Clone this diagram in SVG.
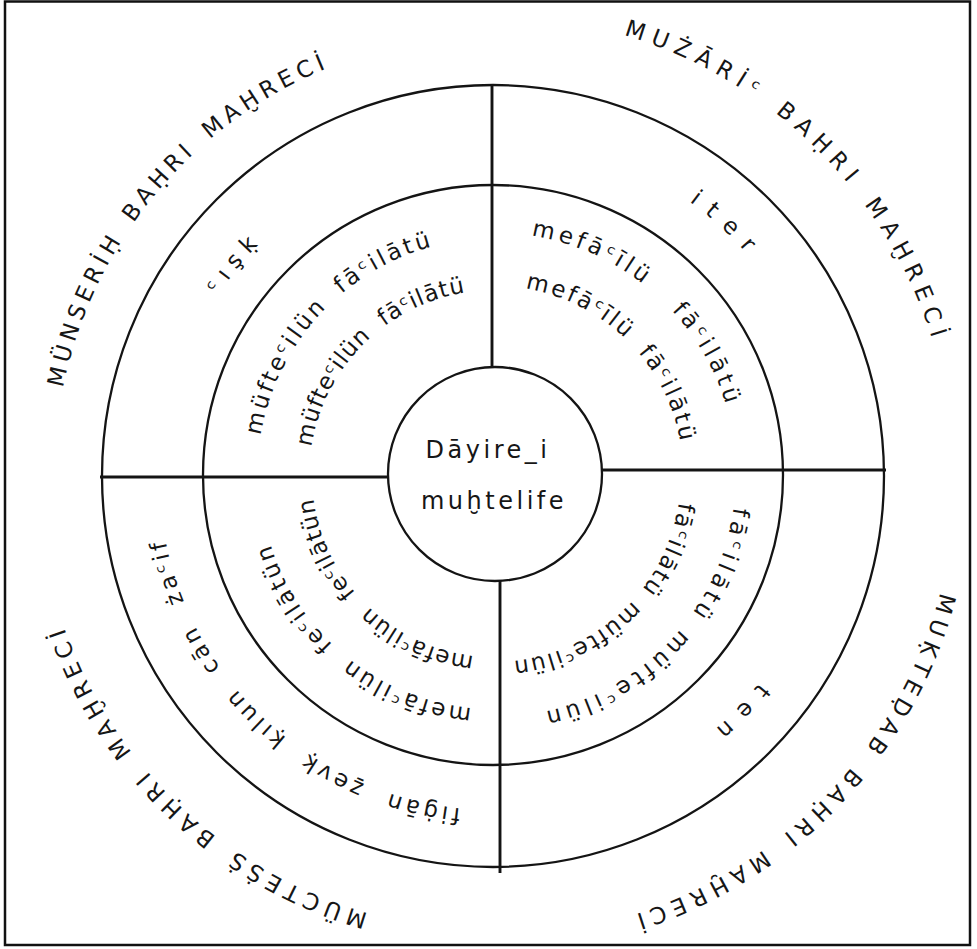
<svg xmlns="http://www.w3.org/2000/svg" xmlns:xlink="http://www.w3.org/1999/xlink" width="977" height="949" viewBox="0 0 977 949">
<style>
.ring{fill:none;stroke:#141414;stroke-width:2.3}
.div{stroke:#141414;stroke-width:2.9}
.t{font-family:"DejaVu Sans","Noto Sans",sans-serif;fill:#161616}
.o{font-size:23px}
.m{font-size:23px}
.i{font-size:23px}
.c{font-size:24px;letter-spacing:3.5px;text-anchor:middle}
</style>
<defs>
<path id="pA" d="M184.0,787.2 A440,440 0 0 1 745.1,113.7"/>
<path id="pB" d="M199.0,123.4 A459,459 0 0 1 845.6,770.0"/>
<path id="pC" d="M840.9,171.3 A461,461 0 0 1 205.1,834.3"/>
<path id="pD" d="M795.6,817.0 A456,456 0 0 1 137.6,190.5"/>
<path id="pE" d="M263.8,710.1 A329,329 0 0 1 679.9,203.5"/>
<path id="pF" d="M269.6,224.9 A336,336 0 0 1 758.4,682.3"/>
<path id="pG" d="M750.6,256.6 A337,337 0 0 1 279.2,734.7"/>
<path id="pH" d="M720.3,722.0 A335,335 0 0 1 228.2,271.1"/>
<path id="pI1" d="M319.3,635.1 A237,237 0 0 1 638.3,287.0"/>
<path id="pI2" d="M352.3,593.9 A185,185 0 0 1 612.9,333.3"/>
<path id="pJ1" d="M327.1,299.7 A242,242 0 0 1 688.8,618.6"/>
<path id="pJ2" d="M372.5,330.2 A189,189 0 0 1 638.8,596.5"/>
<path id="pK1" d="M674.6,313.9 A242,242 0 0 1 344.2,665.0"/>
<path id="pK2" d="M640.3,358.6 A187,187 0 0 1 370.1,615.1"/>
<path id="pL1" d="M661.2,638.7 A234,234 0 0 1 300.9,342.8"/>
<path id="pL2" d="M612.0,613.6 A182,182 0 0 1 353.8,359.0"/>
</defs>
<rect x="0" y="0" width="977" height="949" fill="#ffffff"/>
<rect id="frame" x="5" y="1.5" width="965" height="943.5" fill="none" stroke="#111" stroke-width="2.5"/>

<g id="rings">
<circle class="ring" cx="493" cy="476" r="391"/>
<circle class="ring" cx="493" cy="475" r="290"/>
</g>

<g id="connectors">
<line class="div" x1="492" y1="85" x2="492" y2="367"/>
<line class="div" x1="602" y1="470" x2="886" y2="470"/>
<line class="div" x1="500" y1="581" x2="500" y2="873"/>
<line class="div" x1="100" y1="477" x2="388" y2="477"/>
</g>

<g id="center-node">
<circle class="ring" cx="495" cy="474" r="107"/>
<text class="t c" x="488" y="458">Dāyire_i</text>
<text class="t c" x="494" y="509">muḫtelife</text>
</g>

<g id="quadrant-munserih">
<text class="t o" letter-spacing="5" word-spacing="5"><textPath xlink:href="#pA" href="#pA" startOffset="50%" text-anchor="middle">MÜNSERİḤ BAḤRI MAḪRECİ</textPath></text>
<text class="t m" letter-spacing="8"><textPath xlink:href="#pE" href="#pE" startOffset="50%" text-anchor="middle">ᶜışḳ</textPath></text>
<text class="t i" letter-spacing="3" word-spacing="8"><textPath xlink:href="#pI1" href="#pI1" startOffset="50%" text-anchor="middle">müfteᶜilün fāᶜilātü</textPath></text>
<text class="t i" letter-spacing="1" word-spacing="8"><textPath xlink:href="#pI2" href="#pI2" startOffset="50%" text-anchor="middle">müfteᶜilün fāᶜilātü</textPath></text>
</g>

<g id="quadrant-muzari">
<text class="t o" letter-spacing="7.4" word-spacing="5"><textPath xlink:href="#pB" href="#pB" startOffset="50%" text-anchor="middle">MUŻĀRİᶜ BAḤRI MAḪRECİ</textPath></text>
<text class="t m" letter-spacing="12.5"><textPath xlink:href="#pF" href="#pF" startOffset="50%" text-anchor="middle">iter</textPath></text>
<text class="t i" letter-spacing="4" word-spacing="24"><textPath xlink:href="#pJ1" href="#pJ1" startOffset="50%" text-anchor="middle">mefāᶜīlü fāᶜilātü</textPath></text>
<text class="t i" letter-spacing="2.6" word-spacing="7"><textPath xlink:href="#pJ2" href="#pJ2" startOffset="50%" text-anchor="middle">mefāᶜīlü fāᶜilātü</textPath></text>
</g>

<g id="quadrant-muktezab">
<text class="t o" letter-spacing="6.2" word-spacing="5"><textPath xlink:href="#pC" href="#pC" startOffset="50%" text-anchor="middle">MUḲTEḌAB BAḤRI MAḪRECİ</textPath></text>
<text class="t m" letter-spacing="13"><textPath xlink:href="#pG" href="#pG" startOffset="50%" text-anchor="middle">ten</textPath></text>
<text class="t i" letter-spacing="4.7" word-spacing="4"><textPath xlink:href="#pK1" href="#pK1" startOffset="50%" text-anchor="middle">fāᶜilātü müfteᶜilün</textPath></text>
<text class="t i" letter-spacing="2" word-spacing="4"><textPath xlink:href="#pK2" href="#pK2" startOffset="50%" text-anchor="middle">fāᶜilātü müfteᶜilün</textPath></text>
</g>

<g id="quadrant-muctess">
<text class="t o" letter-spacing="6" word-spacing="5"><textPath xlink:href="#pD" href="#pD" startOffset="50%" text-anchor="middle">MÜCTEṠṠ BAḤRI MAḪRECİ</textPath></text>
<text class="t m" letter-spacing="3.7" word-spacing="12"><textPath xlink:href="#pH" href="#pH" startOffset="50%" text-anchor="middle">fiġān ẕevḳ ḳılun cān żaᶜif</textPath></text>
<text class="t i" letter-spacing="2.9" word-spacing="10"><textPath xlink:href="#pL1" href="#pL1" startOffset="50%" text-anchor="middle">mefāᶜilün feᶜilātün</textPath></text>
<text class="t i" letter-spacing="1.1" word-spacing="10"><textPath xlink:href="#pL2" href="#pL2" startOffset="50%" text-anchor="middle">mefāᶜilün feᶜilātün</textPath></text>
</g>
</svg>
